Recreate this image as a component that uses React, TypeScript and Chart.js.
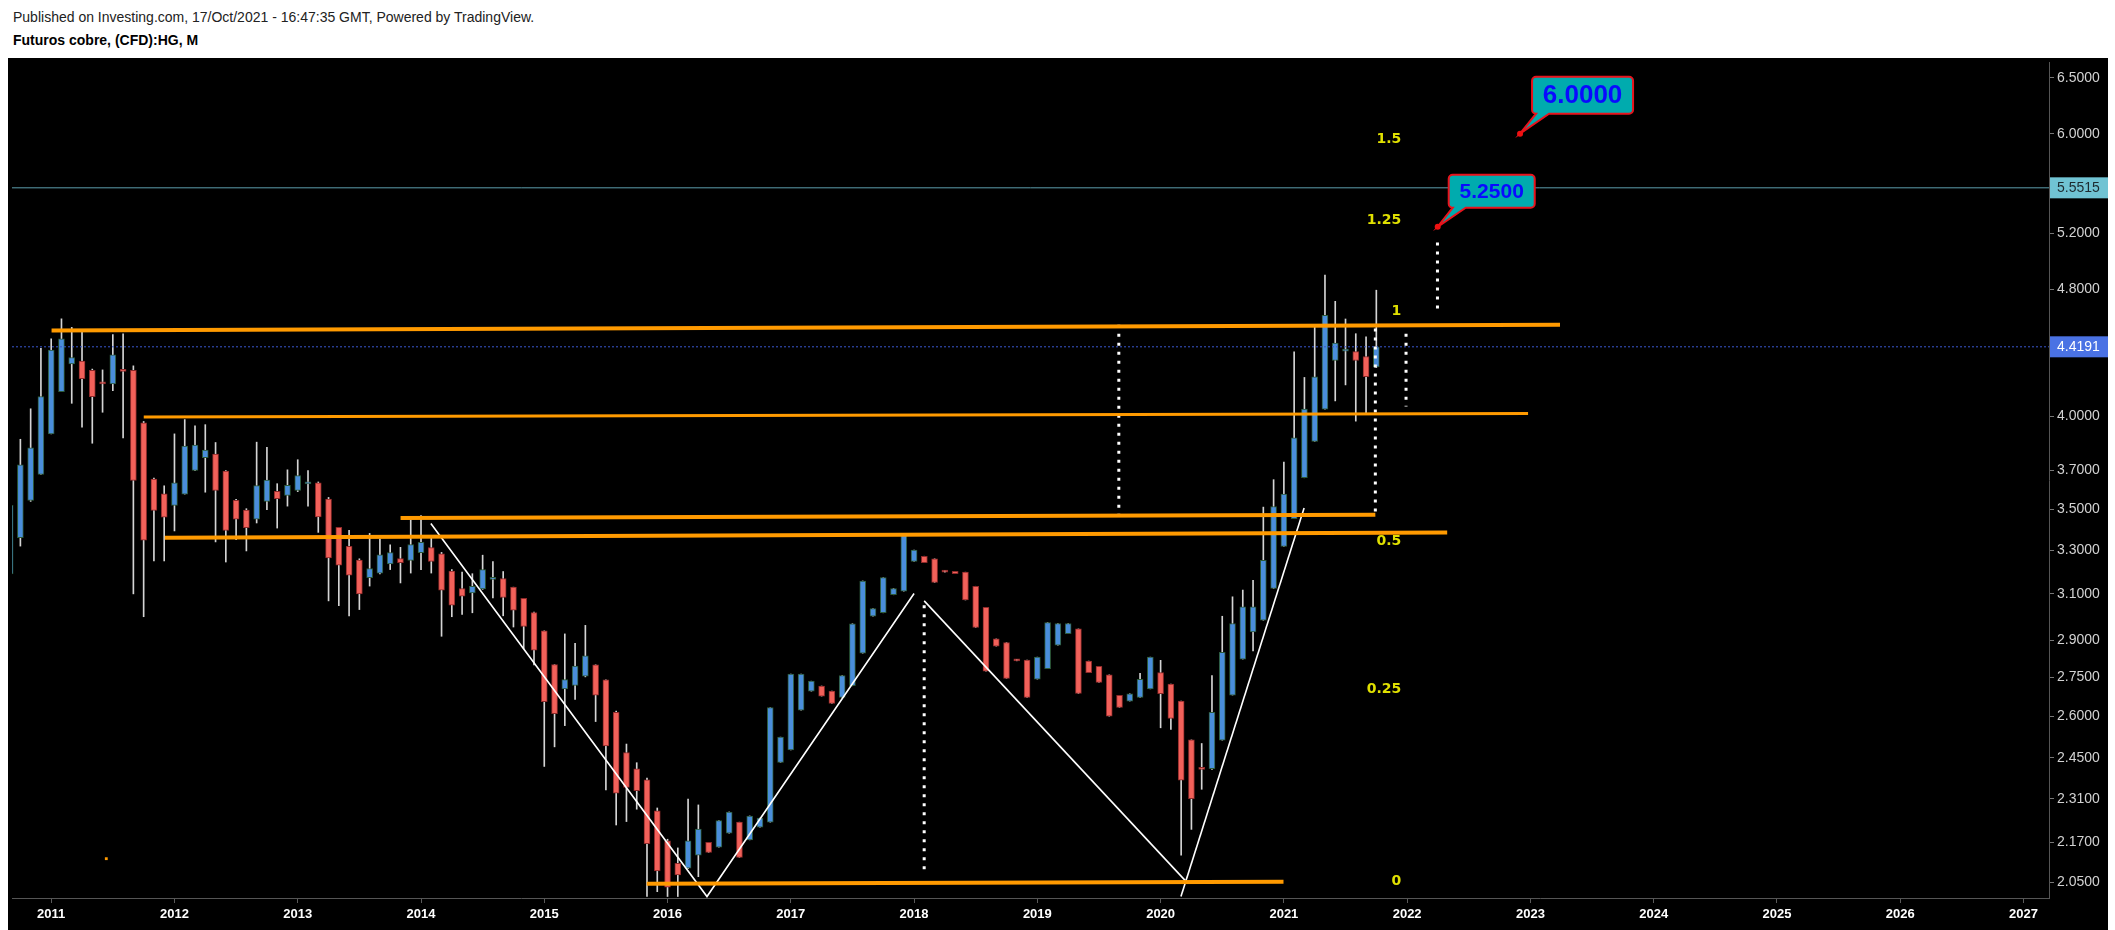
import React, { useEffect, useRef } from 'react';
import { Chart, registerables } from 'chart.js';

Chart.register(...registerables);

// ---------- DATA ----------
const months: string[] = [
  '2010-09', '2010-10', '2010-11', '2010-12',
  '2011-01', '2011-02', '2011-03', '2011-04', '2011-05', '2011-06', '2011-07', '2011-08', '2011-09', '2011-10', '2011-11', '2011-12',
  '2012-01', '2012-02', '2012-03', '2012-04', '2012-05', '2012-06', '2012-07', '2012-08', '2012-09', '2012-10', '2012-11', '2012-12',
  '2013-01', '2013-02', '2013-03', '2013-04', '2013-05', '2013-06', '2013-07', '2013-08', '2013-09', '2013-10', '2013-11', '2013-12',
  '2014-01', '2014-02', '2014-03', '2014-04', '2014-05', '2014-06', '2014-07', '2014-08', '2014-09', '2014-10', '2014-11', '2014-12',
  '2015-01', '2015-02', '2015-03', '2015-04', '2015-05', '2015-06', '2015-07', '2015-08', '2015-09', '2015-10', '2015-11', '2015-12',
  '2016-01', '2016-02', '2016-03', '2016-04', '2016-05', '2016-06', '2016-07', '2016-08', '2016-09', '2016-10', '2016-11', '2016-12',
  '2017-01', '2017-02', '2017-03', '2017-04', '2017-05', '2017-06', '2017-07', '2017-08', '2017-09', '2017-10', '2017-11', '2017-12',
  '2018-01', '2018-02', '2018-03', '2018-04', '2018-05', '2018-06', '2018-07', '2018-08', '2018-09', '2018-10', '2018-11', '2018-12',
  '2019-01', '2019-02', '2019-03', '2019-04', '2019-05', '2019-06', '2019-07', '2019-08', '2019-09', '2019-10', '2019-11', '2019-12',
  '2020-01', '2020-02', '2020-03', '2020-04', '2020-05', '2020-06', '2020-07', '2020-08', '2020-09', '2020-10', '2020-11', '2020-12',
  '2021-01', '2021-02', '2021-03', '2021-04', '2021-05', '2021-06', '2021-07', '2021-08', '2021-09', '2021-10',
];

const opens: number[] = [
  3.19, 3.36, 3.545, 3.68,
  3.90, 4.144, 4.312, 4.329, 4.273, 4.20, 4.19, 4.279, 4.273, 3.963, 3.655, 3.579,
  3.52, 3.577, 3.701, 3.769, 3.789, 3.697, 3.545, 3.496, 3.451, 3.54, 3.591, 3.571,
  3.596, 3.63, 3.636, 3.552, 3.41, 3.319, 3.254, 3.173, 3.194, 3.236, 3.261, 3.253,
  3.289, 3.313, 3.283, 3.203, 3.124, 3.104, 3.122, 3.165, 3.169, 3.13, 3.08, 3.018,
  2.94, 2.801, 2.705, 2.718, 2.755, 2.80, 2.74, 2.615, 2.469, 2.412, 2.374, 2.271,
  2.175, 2.106, 2.091, 2.131, 2.17, 2.155, 2.199, 2.234, 2.178, 2.218, 2.234, 2.434,
  2.478, 2.624, 2.696, 2.716, 2.696, 2.672, 2.717, 2.847, 3.002, 3.017, 3.096, 3.112,
  3.248, 3.272, 3.26, 3.205, 3.202, 3.198, 3.134, 3.041, 2.906, 2.891, 2.821, 2.819,
  2.743, 2.785, 2.88, 2.928, 2.948, 2.815, 2.794, 2.76, 2.68, 2.658, 2.672, 2.705,
  2.769, 2.724, 2.658, 2.514, 2.415, 2.412, 2.513, 2.681, 2.823, 2.935, 2.985, 3.124,
  3.319, 3.453, 3.662, 3.858, 4.041, 4.333, 4.392, 4.389, 4.358, 4.294,
];

const highs: number[] = [
  3.56, 3.87, 4.043, 4.409,
  4.47, 4.60, 4.544, 4.518, 4.28, 4.275, 4.497, 4.502, 4.30, 3.97, 3.66, 3.62,
  3.90, 3.981, 3.946, 3.952, 3.852, 3.70, 3.55, 3.503, 3.854, 3.826, 3.631, 3.704,
  3.758, 3.70, 3.64, 3.56, 3.41, 3.396, 3.26, 3.381, 3.353, 3.326, 3.314, 3.448,
  3.469, 3.364, 3.29, 3.21, 3.199, 3.191, 3.277, 3.247, 3.201, 3.13, 3.08, 3.02,
  2.94, 2.801, 2.927, 2.888, 2.963, 2.80, 2.74, 2.62, 2.499, 2.433, 2.38, 2.28,
  2.18, 2.153, 2.309, 2.29, 2.17, 2.239, 2.267, 2.234, 2.254, 2.247, 2.633, 2.524,
  2.763, 2.763, 2.735, 2.716, 2.696, 2.757, 2.97, 3.158, 3.035, 3.173, 3.124, 3.378,
  3.301, 3.272, 3.26, 3.205, 3.202, 3.198, 3.134, 3.041, 2.906, 2.891, 2.821, 2.819,
  2.831, 2.975, 2.971, 2.971, 2.948, 2.815, 2.794, 2.76, 2.68, 2.686, 2.766, 2.831,
  2.818, 2.724, 2.658, 2.514, 2.501, 2.757, 3.002, 3.087, 3.117, 3.161, 3.511, 3.652,
  3.745, 4.388, 4.229, 4.56, 4.898, 4.717, 4.599, 4.503, 4.483, 4.793,
];

const lows: number[] = [
  3.15, 3.32, 3.54, 3.68,
  3.90, 4.144, 4.075, 3.938, 3.848, 4.023, 4.15, 3.878, 3.10, 3.00, 3.25, 3.25,
  3.393, 3.577, 3.70, 3.587, 3.34, 3.245, 3.351, 3.297, 3.432, 3.498, 3.407, 3.516,
  3.59, 3.516, 3.386, 3.069, 3.048, 3.004, 3.031, 3.135, 3.19, 3.21, 3.149, 3.194,
  3.21, 3.194, 2.917, 3.00, 3.01, 3.017, 3.12, 3.082, 3.004, 2.956, 2.866, 2.80,
  2.42, 2.489, 2.566, 2.664, 2.752, 2.581, 2.34, 2.225, 2.236, 2.276, 2.008, 2.022,
  2.008, 2.008, 2.09, 2.066, 2.139, 2.155, 2.199, 2.124, 2.178, 2.218, 2.234, 2.434,
  2.478, 2.624, 2.696, 2.677, 2.649, 2.672, 2.717, 2.847, 3.002, 3.017, 3.096, 3.112,
  3.248, 3.242, 3.151, 3.198, 3.191, 3.073, 2.954, 2.775, 2.876, 2.746, 2.816, 2.672,
  2.743, 2.785, 2.88, 2.928, 2.687, 2.769, 2.73, 2.601, 2.634, 2.658, 2.672, 2.705,
  2.558, 2.552, 2.131, 2.211, 2.342, 2.41, 2.513, 2.681, 2.823, 2.856, 2.985, 3.124,
  3.319, 3.453, 3.662, 3.858, 4.041, 4.089, 4.184, 3.972, 4.02, 4.29,
];

const closes: number[] = [
  3.52, 3.73, 3.823, 4.115,
  4.399, 4.47, 4.352, 4.221, 4.114, 4.19, 4.369, 4.265, 3.648, 3.348, 3.495, 3.461,
  3.636, 3.832, 3.838, 3.81, 3.596, 3.396, 3.451, 3.409, 3.621, 3.65, 3.554, 3.623,
  3.673, 3.64, 3.462, 3.264, 3.23, 3.184, 3.10, 3.215, 3.279, 3.289, 3.242, 3.327,
  3.338, 3.248, 3.116, 3.05, 3.09, 3.134, 3.21, 3.17, 3.084, 3.028, 2.959, 2.859,
  2.656, 2.61, 2.741, 2.795, 2.836, 2.681, 2.492, 2.329, 2.348, 2.337, 2.166, 2.083,
  2.035, 2.071, 2.175, 2.212, 2.139, 2.239, 2.267, 2.124, 2.254, 2.247, 2.633, 2.524,
  2.763, 2.763, 2.735, 2.677, 2.649, 2.757, 2.97, 3.158, 3.035, 3.173, 3.124, 3.378,
  3.301, 3.242, 3.151, 3.198, 3.191, 3.073, 2.954, 2.775, 2.876, 2.746, 2.816, 2.672,
  2.831, 2.975, 2.971, 2.971, 2.687, 2.769, 2.73, 2.601, 2.634, 2.686, 2.742, 2.831,
  2.686, 2.593, 2.373, 2.311, 2.41, 2.615, 2.851, 2.971, 3.043, 3.043, 3.253, 3.514,
  3.577, 3.878, 4.041, 4.233, 4.623, 4.442, 4.398, 4.333, 4.234, 4.419,
];

const yTickValues: number[] = [2.05, 2.17, 2.31, 2.45, 2.6, 2.75, 2.9, 3.1, 3.3, 3.5, 3.7, 4.0, 4.8, 5.2, 6.0, 6.5];
const yearTicks: number[] = [2011, 2012, 2013, 2014, 2015, 2016, 2017, 2018, 2019, 2020, 2021, 2022, 2023, 2024, 2025, 2026, 2027];

// horizontal trend lines (orange): [x1, y1, x2, y2]
const orangeLines: number[][] = [
  [2011.003, 4.523, 2023.240, 4.562],
  [2011.751, 3.995, 2022.981, 4.016],
  [2013.834, 3.456, 2021.742, 3.473],
  [2011.921, 3.360, 2022.325, 3.386],
  [2015.831, 2.045, 2020.997, 2.051],
];
const orangeWidths: number[] = [4, 3, 4, 4, 4];

// white pattern lines: lists of [x, y]
const whitePaths: number[][][] = [
  [[2014.080, 3.429], [2016.320, 2.008], [2018.000, 3.102]],
  [[2018.082, 3.069], [2020.206, 2.052]],
  [[2020.165, 2.008], [2021.164, 3.506]],
];

// dotted verticals: [x, yTop, yBottom]
const dottedLines: number[][] = [
  [2018.082, 3.050, 2.070],
  [2019.661, 4.562, 3.435],
  [2021.742, 4.537, 3.480],
  [2021.991, 4.503, 4.056],
  [2022.246, 5.133, 4.628],
];

const fibTexts: string[] = ['1.5', '1.25', '1', '0.5', '0.25', '0'];
const fibValues: number[] = [5.955, 5.299, 4.651, 3.345, 2.704, 2.051];
const fibX = 2021.952;

const calloutX: number[] = [2022.248, 2022.916];
const calloutY: number[] = [5.25, 6.0];
const calloutTexts: string[] = ['5.2500', '6.0000'];

const lastPrice = 4.4191;
const markedLevel = 5.5515;
const orangeMark: number[] = [2011.447, 2.12];

// ---------- STYLE / LAYOUT ----------
const X_MIN = 2010.682;
const X_MAX = 2027.207;
const Y_MIN = 2.0037;
const Y_MAX = 6.65;
const FONT = '"Liberation Sans", Arial, Helvetica, sans-serif';
const UP_FILL = '#4a8edb';
const UP_BORDER = '#2c5a3a';
const DOWN_FILL = '#f2615a';
const DOWN_BORDER = '#8e2a2a';
const ORANGE = '#ff9a00';
const calloutBoxes = [
  { dx: 11, dy: -52, w: 86, h: 33, font: 21 },
  { dx: 12, dy: -57, w: 101, h: 37, font: 26 },
];

const monthToX = (m: string) => {
  const [y, mo] = m.split('-').map(Number);
  return y + (mo - 1) / 12;
};

const overlayPlugin = {
  id: 'overlay',
  afterDatasetsDraw(chart: any) {
    const { ctx } = chart;
    const x = chart.scales.x;
    const y = chart.scales.y;
    ctx.save();
    // fib labels
    ctx.font = 'bold 14px "DejaVu Sans", Verdana, sans-serif';
    ctx.fillStyle = '#e0e000';
    ctx.textAlign = 'right';
    ctx.textBaseline = 'middle';
    fibTexts.forEach((t, i) => {
      ctx.fillText(t, x.getPixelForValue(fibX), y.getPixelForValue(fibValues[i]));
    });
    // callouts
    calloutTexts.forEach((t, i) => {
      const b = calloutBoxes[i];
      const px = x.getPixelForValue(calloutX[i]);
      const py = y.getPixelForValue(calloutY[i]);
      const L = px + b.dx, T = py + b.dy, R = L + b.w, B = T + b.h, r = 4;
      ctx.beginPath();
      ctx.moveTo(L + r, T);
      ctx.lineTo(R - r, T);
      ctx.arcTo(R, T, R, T + r, r);
      ctx.lineTo(R, B - r);
      ctx.arcTo(R, B, R - r, B, r);
      ctx.lineTo(L + 17, B);
      ctx.lineTo(px, py);
      ctx.lineTo(L + 4, B);
      ctx.lineTo(L + r, B);
      ctx.arcTo(L, B, L, B - r, r);
      ctx.lineTo(L, T + r);
      ctx.arcTo(L, T, L + r, T, r);
      ctx.closePath();
      ctx.fillStyle = '#00abae';
      ctx.fill();
      ctx.lineWidth = 2;
      ctx.strokeStyle = '#e8131c';
      ctx.stroke();
      ctx.beginPath();
      ctx.arc(px, py, 3, 0, Math.PI * 2);
      ctx.fillStyle = '#ee1111';
      ctx.fill();
      ctx.font = `bold ${b.font}px ${FONT}`;
      ctx.fillStyle = '#0a0aff';
      ctx.textAlign = 'center';
      ctx.textBaseline = 'middle';
      ctx.fillText(t, (L + R) / 2, (T + B) / 2 + 1);
    });
    ctx.restore();
  },
  afterDraw(chart: any) {
    const { ctx, chartArea } = chart;
    const y = chart.scales.y;
    ctx.save();
    const badges = [
      { v: markedLevel, bg: '#70c3d3', fg: '#1d2b30' },
      { v: lastPrice, bg: '#4a72e4', fg: '#ffffff' },
    ];
    badges.forEach((bd) => {
      const py = y.getPixelForValue(bd.v);
      ctx.fillStyle = bd.bg;
      ctx.fillRect(chartArea.right + 1, py - 10.5, 58, 21);
      ctx.fillStyle = bd.fg;
      ctx.font = `14px ${FONT}`;
      ctx.textAlign = 'left';
      ctx.textBaseline = 'middle';
      ctx.fillText(bd.v.toFixed(4), chartArea.right + 8, py);
    });
    ctx.restore();
  },
};

export default function App() {
  const ref = useRef<HTMLCanvasElement>(null);

  useEffect(() => {
    const canvas = ref.current;
    if (!canvas) return;
    const xs = months.map(monthToX);
    const isUp = months.map((_, i) => closes[i] >= opens[i]);

    const lineDatasets: any[] = [];
    orangeLines.forEach((l, i) => {
      lineDatasets.push({
        type: 'line',
        data: [{ x: l[0], y: l[1] }, { x: l[2], y: l[3] }],
        borderColor: ORANGE,
        borderWidth: orangeWidths[i],
        pointRadius: 0,
        tension: 0,
        fill: false,
        order: 0,
      });
    });
    whitePaths.forEach((p) => {
      lineDatasets.push({
        type: 'line',
        data: p.map((q) => ({ x: q[0], y: q[1] })),
        borderColor: '#ffffff',
        borderWidth: 1.6,
        pointRadius: 0,
        tension: 0,
        fill: false,
        order: 0,
      });
    });
    dottedLines.forEach((d) => {
      lineDatasets.push({
        type: 'line',
        data: [{ x: d[0], y: d[1] }, { x: d[0], y: d[2] }],
        borderColor: '#ffffff',
        borderWidth: 3,
        borderDash: [3, 6],
        borderCapStyle: 'butt',
        pointRadius: 0,
        fill: false,
        order: 0,
      });
    });
    lineDatasets.push({
      type: 'line',
      data: [{ x: X_MIN, y: markedLevel }, { x: X_MAX, y: markedLevel }],
      borderColor: '#5d9eac',
      borderWidth: 1,
      pointRadius: 0,
      fill: false,
      order: 1,
    });
    lineDatasets.push({
      type: 'line',
      data: [{ x: X_MIN, y: lastPrice }, { x: X_MAX, y: lastPrice }],
      borderColor: '#3a58d0',
      borderWidth: 1,
      borderDash: [2, 2],
      pointRadius: 0,
      fill: false,
      order: 1,
    });
    lineDatasets.push({
      type: 'line',
      data: [{ x: orangeMark[0], y: orangeMark[1] }],
      showLine: false,
      pointRadius: 2,
      pointStyle: 'rect',
      pointBackgroundColor: ORANGE,
      pointBorderWidth: 0,
      order: 0,
    });

    const chart = new Chart(canvas, {
      type: 'bar',
      data: {
        datasets: [
          ...lineDatasets,
          {
            type: 'bar',
            data: xs.map((x, i) => ({ x, y: [Math.min(opens[i], closes[i]), Math.max(opens[i], closes[i])] })),
            backgroundColor: isUp.map((u) => (u ? UP_FILL : DOWN_FILL)),
            borderColor: isUp.map((u) => (u ? UP_BORDER : DOWN_BORDER)),
            borderWidth: 1,
            borderSkipped: false,
            barThickness: 6,
            minBarLength: 2,
            grouped: false,
            order: 2,
          },
          {
            type: 'bar',
            data: xs.map((x, i) => ({ x, y: [lows[i], highs[i]] })),
            backgroundColor: '#d4d4d4',
            borderWidth: 0,
            barThickness: 1,
            grouped: false,
            order: 3,
          },
        ] as any,
      },
      options: {
        animation: false,
        responsive: false,
        maintainAspectRatio: false,
        devicePixelRatio: 1,
        events: [],
        layout: { padding: 0 },
        plugins: { legend: { display: false }, tooltip: { enabled: false } },
        scales: {
          x: {
            type: 'linear',
            position: 'bottom',
            min: X_MIN,
            max: X_MAX,
            offset: false,
            afterBuildTicks: (s: any) => {
              s.ticks = yearTicks.map((v) => ({ value: v }));
            },
            afterFit: (s: any) => {
              s.height = 32;
              s.paddingLeft = 0;
              s.paddingRight = 0;
            },
            ticks: {
              autoSkip: false,
              maxRotation: 0,
              color: '#ffffff',
              padding: 4,
              font: { family: FONT, size: 13, weight: 'bold' },
              callback: (v: any) => String(v),
            },
            grid: { display: true, drawOnChartArea: false, drawTicks: true, tickLength: 5, color: '#5a5a5a', offset: false },
            border: { display: true, color: '#555555', width: 1 },
          },
          y: {
            type: 'logarithmic',
            position: 'right',
            min: Y_MIN,
            max: Y_MAX,
            afterBuildTicks: (s: any) => {
              s.ticks = yTickValues.map((v) => ({ value: v }));
            },
            afterFit: (s: any) => {
              s.width = 59;
              s.paddingTop = 0;
              s.paddingBottom = 0;
            },
            ticks: {
              autoSkip: false,
              color: '#d2d2d2',
              padding: 3,
              font: { family: FONT, size: 14 },
              callback: (v: any) => Number(v).toFixed(4),
            },
            grid: { display: true, drawOnChartArea: false, drawTicks: true, tickLength: 5, color: '#777777' },
            border: { display: true, color: '#555555', width: 1 },
          },
        },
      } as any,
      plugins: [overlayPlugin],
    });
    return () => chart.destroy();
  }, []);

  return (
    <div
      style={{
        position: 'absolute',
        left: 0,
        top: 0,
        width: 2115,
        height: 930,
        background: '#ffffff',
        overflow: 'hidden',
        fontFamily: FONT,
      }}
    >
      <div style={{ position: 'absolute', left: 13, top: 9, fontSize: 14, lineHeight: '17px', color: '#222', whiteSpace: 'nowrap' }}>
        Published on Investing.com, 17/Oct/2021 - 16:47:35 GMT, Powered by TradingView.
      </div>
      <div style={{ position: 'absolute', left: 13, top: 32, fontSize: 14, lineHeight: '17px', fontWeight: 'bold', color: '#000', whiteSpace: 'nowrap' }}>
        Futuros cobre, (CFD):HG, M
      </div>
      <canvas
        ref={ref}
        width={2100}
        height={872}
        style={{ position: 'absolute', left: 8, top: 58, width: 2100, height: 872, background: '#000000' }}
      />
    </div>
  );
}
